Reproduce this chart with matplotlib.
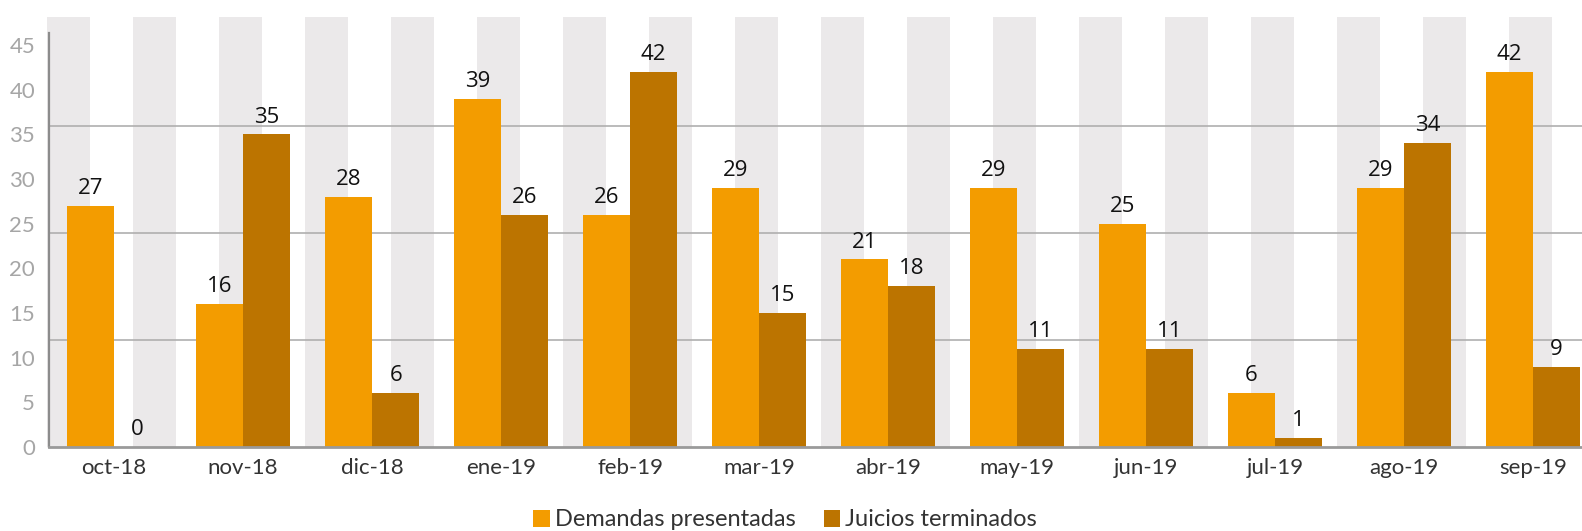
import matplotlib.pyplot as plt
from matplotlib.patches import Rectangle, Patch
import numpy as np

months = ["oct-18", "nov-18", "dic-18", "ene-19", "feb-19", "mar-19",
          "abr-19", "may-19", "jun-19", "jul-19", "ago-19", "sep-19"]
demandas = [27, 16, 28, 39, 26, 29, 21, 29, 25, 6, 29, 42]
juicios = [0, 35, 6, 26, 42, 15, 18, 11, 11, 1, 34, 9]
y_ticks = [0, 5, 10, 15, 20, 25, 30, 35, 40, 45]
grid_levels = [12, 24, 36]

ORANGE = "#F39C00"
BROWN = "#BC7400"
STRIPE = "#EBE9EA"

fig = plt.figure(figsize=(15.82, 5.31), dpi=100)
ax = fig.add_axes([49 / 1582, 84 / 531, 1533 / 1582, 414 / 531])

x = np.arange(len(months))
w = 0.365
ymax = 414 / 8.93
ax.set_xlim(-0.505, 11.38)
ax.set_ylim(0, ymax)

# decorative background stripes
for k in range(18):
    ax.add_patch(Rectangle((-0.52 + k * 2 / 3, 0), 1 / 3, 48.1,
                           facecolor=STRIPE, edgecolor="none",
                           zorder=0, clip_on=False))

for g in grid_levels:
    ax.axhline(g, color="#AFAFAF", lw=1.2, zorder=1)

b1 = ax.bar(x - w / 2, demandas, w, color=ORANGE, zorder=2)
b2 = ax.bar(x + w / 2, juicios, w, color=BROWN, zorder=2)

for bars in (b1, b2):
    for bar in bars:
        h = bar.get_height()
        ax.annotate(f"{h:g}", xy=(bar.get_x() + bar.get_width() / 2, h),
                    xytext=(0, 5), textcoords="offset points",
                    ha="center", va="bottom", fontsize=16,
                    family="Open Sans", color="#111111", zorder=3)

for s in ["top", "right"]:
    ax.spines[s].set_visible(False)
ax.spines["left"].set_color("#8C8C8C")
ax.spines["left"].set_linewidth(1.6)
ax.spines["bottom"].set_color("#9A9A9A")
ax.spines["bottom"].set_linewidth(2)

ax.set_yticks(y_ticks)
ax.set_yticklabels([str(t) for t in y_ticks], fontsize=16, family="Lato",
                   color="#A6A6A6")
ax.set_xticks(x)
ax.set_xticklabels(months, fontsize=16, family="Lato", color="#333333")
ax.tick_params(axis="both", length=0)
ax.tick_params(axis="y", pad=10)
ax.tick_params(axis="x", pad=8)

handles = [Patch(facecolor=ORANGE, label="Demandas presentadas"),
           Patch(facecolor=BROWN, label="Juicios terminados")]
fig.legend(handles=handles, loc="center", bbox_to_anchor=(785 / 1582, 1 - 520 / 531),
           ncol=2, frameon=False, handlelength=0.7, handleheight=0.7,
           handletextpad=0.2, columnspacing=1.2, borderpad=0,
           prop={"family": "Lato", "size": 17}, labelcolor="#333333")

plt.savefig("out.png", dpi=100)
